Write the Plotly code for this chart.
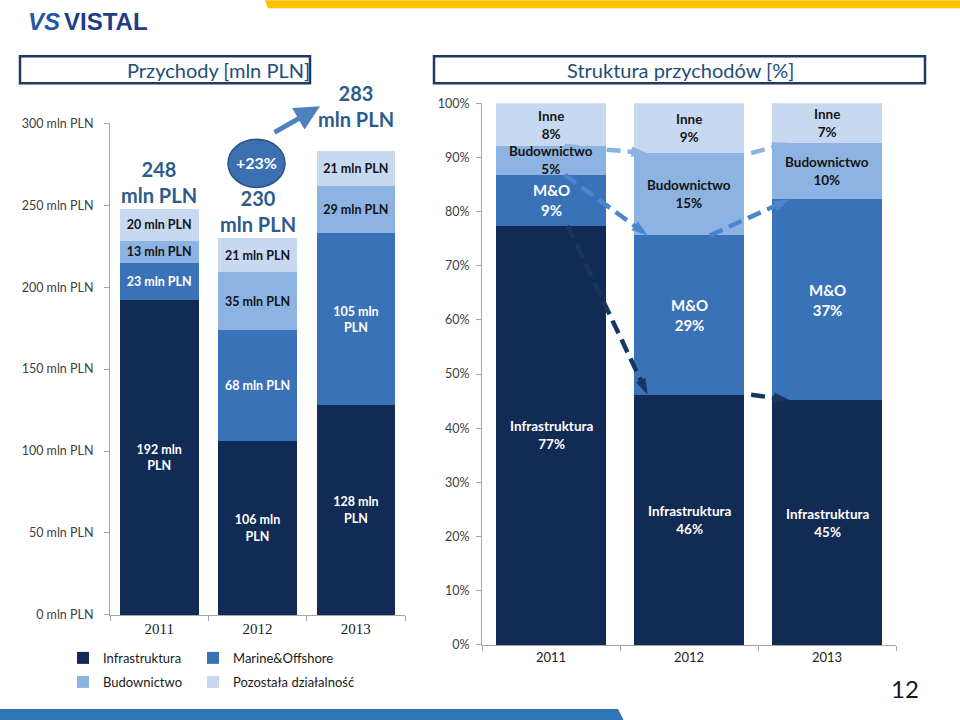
import plotly.graph_objects as go

# ---------------- data ----------------
years = ["2011", "2012", "2013"]
seg_names = ["Infrastruktura", "Marine&Offshore", "Budownictwo", "Pozostała działalność"]
rev_infra = [192, 106, 128]
rev_mo = [23, 68, 105]
rev_bud = [13, 35, 29]
rev_other = [20, 21, 21]

share_names = ["Infrastruktura", "M&O", "Budownictwo", "Inne"]
share_infra = [77.4, 46.2, 45.2]
share_mo = [9.4, 29.4, 37.1]
share_bud = [5.3, 15.2, 10.4]
share_other = [7.9, 9.2, 7.3]

rev_ticks = [0, 50, 100, 150, 200, 250, 300]
pct_ticks = [0, 10, 20, 30, 40, 50, 60, 70, 80, 90, 100]

# ---------------- style ----------------
W, H = 960, 720
Y_OFF, Y_SPAN = 7.8, 704.2   # vertical placement of the figure within the captured page
def px(x): return x / W
def py(y): return 1 - (y - Y_OFF) / Y_SPAN

C_INFRA = "#112b54"
C_MO = "#3a72b8"
C_BUD = "#8db3e2"
C_OTHER = "#c6d9f1"
DARK_TXT = "#141414"
FONT = "Lato"
TITLE_BLUE = "#1f4e79"

xpos = list(range(len(years)))
rev_series = [rev_infra, rev_mo, rev_bud, rev_other]
share_series = [share_infra, share_mo, share_bud, share_other]
colors = [C_INFRA, C_MO, C_BUD, C_OTHER]
txt_colors = ["white", "white", DARK_TXT, DARK_TXT]
legend_ids = ["legend", "legend2", "legend3", "legend4"]

fig = go.Figure()

# left chart: revenue
for name, vals, col, tcol, lg in zip(seg_names, rev_series, colors, txt_colors, legend_ids):
    labels = [f"{v} mln<br>PLN" if v >= 100 else f"{v} mln PLN" for v in vals]
    fig.add_trace(go.Bar(
        x=xpos, y=vals, name=name, width=0.8,
        marker=dict(color=col, line=dict(width=0)),
        text=labels, textposition="inside", insidetextanchor="middle",
        textangle=0, constraintext="none", cliponaxis=False,
        textfont=dict(family=FONT, size=12.5, color=tcol, weight="bold"),
        xaxis="x", yaxis="y", legend=lg, hoverinfo="skip",
    ))

# right chart: structure (labels as annotations at segment centres)
base = [0.0] * len(years)
seg_label_anns = []
for name, vals, col, tcol in zip(share_names, share_series, colors, txt_colors):
    fig.add_trace(go.Bar(
        x=xpos, y=vals, name=name, width=0.8, showlegend=False,
        marker=dict(color=col, line=dict(width=0)),
        xaxis="x2", yaxis="y2", hoverinfo="skip",
    ))
    fsize = 15 if name == "M&O" else 13.5
    for i, v in enumerate(vals):
        seg_label_anns.append(dict(
            x=i, y=base[i] + v / 2, xref="x2", yref="y2", showarrow=False,
            xanchor="center", yanchor="middle",
            text=f"<b>{name}<br>{v:.0f}%</b>",
            font=dict(family=FONT, size=fsize, color=tcol)))
        base[i] += v

# dashed transition arrows on the structure chart
cum1 = share_infra
cum2 = [a + b for a, b in zip(share_infra, share_mo)]
cum3 = [a + b + c for a, b, c in zip(share_infra, share_mo, share_bud)]
arrow_cols = ["#17375e", "#4a86d0", "#8db3e2"]
starts = [[0.12, 0.1, 0.1], [1.45, 1.15, 1.45]]
ends = [[0.7, 0.7, 0.7], [1.73, 1.73, 1.72]]
for k in range(2):
    for b, (cum, col) in enumerate(zip([cum1, cum2, cum3], arrow_cols)):
        fig.add_trace(go.Scatter(
            x=[starts[k][b], ends[k][b]], y=[cum[k], cum[k + 1]],
            mode="lines+markers", showlegend=False, hoverinfo="skip",
            line=dict(color=col, width=4.5, dash="14px,7px"),
            marker=dict(symbol="arrow", size=[0, 17], angleref="previous", color=col,
                        line=dict(width=0), opacity=1),
            xaxis="x2", yaxis="y2", cliponaxis=False,
        ))

# totals above revenue bars
totals = [sum(v) for v in zip(*rev_series)]
total_shift = [0, 0, 18]
for i, t in enumerate(totals):
    fig.add_annotation(x=i, y=t, xref="x", yref="y", xanchor="center", yanchor="bottom",
                       yshift=total_shift[i],
                       text=f"<b>{t}</b><br><b>mln PLN</b>", showarrow=False,
                       font=dict(family=FONT, size=20, color="#2c5c8e"))

growth = round((totals[2] / totals[1] - 1) * 100)

shapes = []
annotations = list(seg_label_anns)
def note(x, y, text, size, color, family=FONT, xanchor="center"):
    annotations.append(dict(x=px(x), y=py(y), xref="paper", yref="paper", showarrow=False,
                            xanchor=xanchor, yanchor="middle", text=text,
                            font=dict(family=family, size=size, color=color)))

# title boxes
shapes.append(dict(type="rect", xref="paper", yref="paper", x0=px(20), x1=px(310), y0=py(83), y1=py(56),
                   line=dict(color="#1f3864", width=2.5), fillcolor="white", layer="below"))
shapes.append(dict(type="rect", xref="paper", yref="paper", x0=px(434), x1=px(925), y0=py(83), y1=py(56),
                   line=dict(color="#1f3864", width=2.5), fillcolor="white", layer="below"))
note(218, 70, "Przychody [mln PLN]", 20, TITLE_BLUE)
note(680, 70, "Struktura przychodów [%]", 20, TITLE_BLUE)
# growth circle and arrow
shapes.append(dict(type="circle", xref="paper", yref="paper", x0=px(228), x1=px(285), y0=py(187), y1=py(139),
                   fillcolor="#3b6fb0", line=dict(color="#2a5285", width=1.5)))
note(256, 162, f"<b>+{growth}%</b>", 16, "white")
annotations.append(dict(x=px(320), y=py(106), xref="paper", yref="paper", ax=-47, ay=27,
                        showarrow=True, arrowhead=2, arrowsize=1, arrowwidth=5,
                        arrowcolor="#4f81bd", text=""))
# top yellow band and bottom blue band
shapes.append(dict(type="path", xref="paper", yref="paper",
                   path=f"M {px(265)} {py(0)} L {px(960)} {py(0)} L {px(960)} {py(8)} L {px(268)} {py(8)} Z",
                   fillcolor="#ffc000", line=dict(width=0)))
shapes.append(dict(type="path", xref="paper", yref="paper",
                   path=f"M {px(0)} {py(708)} L {px(618)} {py(708)} L {px(624)} {py(720)} L {px(0)} {py(720)} Z",
                   fillcolor="#2e75b6", line=dict(width=0)))
# logo
note(44, 21, "<b><i>VS</i></b>", 24, "#2456a4", family="Liberation Sans")
note(106, 21, "<b>VISTAL</b>", 24, "#1f3c88", family="Liberation Sans")
# page number
note(905, 688, "12", 24, "#1a1a1a")

for a in annotations:
    fig.add_annotation(**a)

axis_line = "#a6a6a6"
legend_common = dict(orientation="h", xanchor="left", yanchor="middle", bgcolor="rgba(0,0,0,0)",
                     font=dict(family=FONT, size=13, color="#1a1a1a"), itemwidth=30)
legend_pos = [(63, 657), (193, 657), (63, 681), (193, 681)]

layout_legends = {}
for lg, (lx, ly) in zip(legend_ids, legend_pos):
    layout_legends[lg] = dict(legend_common, x=px(lx), y=py(ly))

fig.update_layout(
    width=W, height=H, margin=dict(l=0, r=0, t=0, b=0),
    paper_bgcolor="white", plot_bgcolor="rgba(0,0,0,0)",
    barmode="stack", shapes=shapes,
    xaxis=dict(domain=[px(110), px(405)], range=[-0.5, 2.5], tickmode="array", tickvals=xpos,
               ticktext=years, ticks="", showline=True, linecolor=axis_line, showgrid=False,
               zeroline=False, anchor="y",
               tickfont=dict(family="Liberation Serif", size=15, color="#222"),
               minor=dict(tickmode="array", tickvals=[-0.5, 0.5, 1.5, 2.5], ticks="outside",
                          ticklen=5, tickcolor=axis_line)),
    yaxis=dict(domain=[py(614), py(123)], range=[0, 300], tickmode="array", tickvals=rev_ticks,
               ticktext=[f"{v} mln PLN" for v in rev_ticks], ticks="outside", ticklen=5,
               tickcolor=axis_line, showline=True, linecolor=axis_line, showgrid=False,
               zeroline=False, anchor="x", ticklabelstandoff=8,
               tickfont=dict(family=FONT, size=12.5, color="#404040")),
    xaxis2=dict(domain=[px(482), px(896)], range=[-0.5, 2.5], tickmode="array", tickvals=xpos,
                ticktext=years, ticks="", showline=True, linecolor=axis_line, showgrid=False,
                zeroline=False, anchor="y2",
                tickfont=dict(family=FONT, size=13, color="#222"),
                minor=dict(tickmode="array", tickvals=[-0.5, 0.5, 1.5, 2.5], ticks="outside",
                           ticklen=5, tickcolor=axis_line)),
    yaxis2=dict(domain=[py(644), py(103)], range=[0, 100], tickmode="array", tickvals=pct_ticks,
                ticktext=[f"{v}%" for v in pct_ticks], ticks="outside", ticklen=5,
                tickcolor=axis_line, showline=True, linecolor=axis_line, showgrid=False,
                zeroline=False, anchor="x2", ticklabelstandoff=4,
                tickfont=dict(family=FONT, size=12.5, color="#404040")),
    showlegend=True,
    **layout_legends,
)

fig.write_html("out.html")
